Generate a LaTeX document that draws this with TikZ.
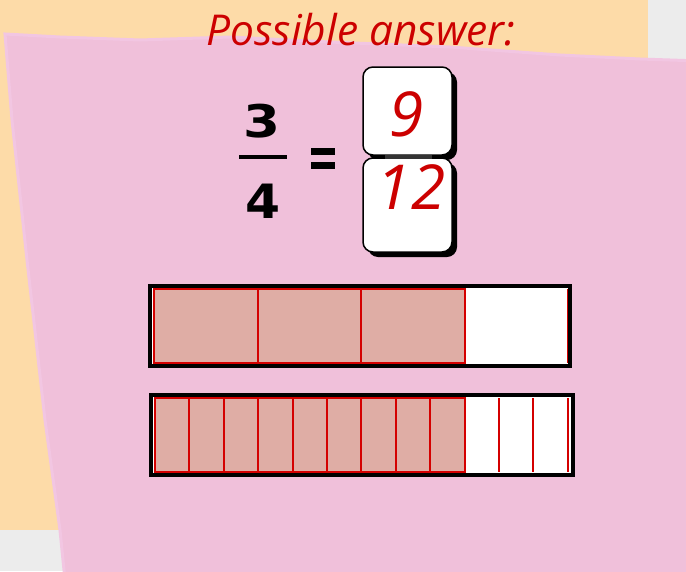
\documentclass[tikz,border=0pt]{standalone}
\usepackage{fontspec}
\usepackage{graphicx}
\setmainfont{Open Sans}
\newfontfamily\digfont{DejaVu Sans}
\definecolor{bggrey}{HTML}{ECECEC}
\definecolor{peach}{HTML}{FDDBA8}
\definecolor{pinkpaper}{HTML}{F0C0DA}
\definecolor{pinkedge}{HTML}{F2C6E2}
\definecolor{ansred}{HTML}{CC0000}
\definecolor{barred}{HTML}{D40000}
\definecolor{shadefill}{HTML}{DFADA5}
\definecolor{bardark}{HTML}{333333}
\tikzset{
  ansnum/.style={text=ansred, font=\itshape\fontsize{62}{70}\selectfont, inner sep=0pt, anchor=base},
  bignum/.style={text=black, font=\digfont\bfseries\fontsize{45}{50}\selectfont, inner sep=0pt, anchor=base},
  answerbox/.style={fill=white, draw=black, line width=1.5pt, rounded corners=10pt},
  boxshadow/.style={fill=black, rounded corners=10pt},
  barframe/.style={draw=black, line width=4pt},
  redline/.style={draw=barred, line width=2pt},
}
\begin{document}
\begin{tikzpicture}[x=1pt,y=-1pt]
\useasboundingbox (0,0) rectangle (686,571);
% backgrounds
\fill[bggrey] (0,0) rectangle (686,571);
\fill[peach] (0,0) rectangle (648,530);
\filldraw[fill=pinkpaper, draw=pinkedge, line width=3pt]
  (5,34) -- (60,37) -- (140,40) -- (230,37) -- (330,42) -- (450,47) -- (560,55) -- (640,59) -- (700,61)
  -- (700,590) -- (66,590) -- (60,530) -- (45,420) -- (27,260) -- (12,120) -- cycle;
% title
\node[text=ansred, font=\itshape\fontsize{42.5}{50}\selectfont, inner sep=0pt, anchor=base] (title) at (361,45) {Possible answer:};
% 3/4
\node[bignum] (three) at (262,137) {\scalebox{1.18}[1]{3}};
\node[bignum] (four) at (263,218) {\scalebox{1.12}[1.05]{4}};
\draw[line width=4pt] (239,157) -- (287,157);
\fill[black] (311,148) rectangle (335,155);
\fill[black] (311,162) rectangle (335,169);
% answer boxes
\fill[boxshadow] (368,72) rectangle (457,160);
\fill[boxshadow] (368,163) rectangle (457,257);
\draw[answerbox] (363,67) rectangle (452,155);
\draw[answerbox] (363,158) rectangle (452,252);
\draw[bardark, line width=4pt] (385,157) -- (432,157);
\node[ansnum] (nine) at (407,136) {9};
\node[ansnum] (twelve) at (411,209) {12};
% bar of quarters
\fill[white] (150,286) rectangle (570,366);
\fill[shadefill] (154,289) rectangle (464.5,363);
\draw[redline] (154,289) rectangle (464.5,363);
\foreach \k in {1,2} {\draw[redline] (154+103.5*\k,289) -- (154+103.5*\k,363);}
\draw[redline] (568,289) -- (568,363);
\draw[barframe] (150,286) rectangle (570,366);
% bar of twelfths
\fill[white] (151,395) rectangle (573,475);
\fill[shadefill] (155,398) rectangle (464.6,472);
\draw[redline] (155,398) rectangle (464.6,472);
\foreach \k in {1,...,12} {\draw[redline] (155+34.4*\k,398) -- (155+34.4*\k,472);}
\draw[barframe] (151,395) rectangle (573,475);
\end{tikzpicture}
\end{document}
